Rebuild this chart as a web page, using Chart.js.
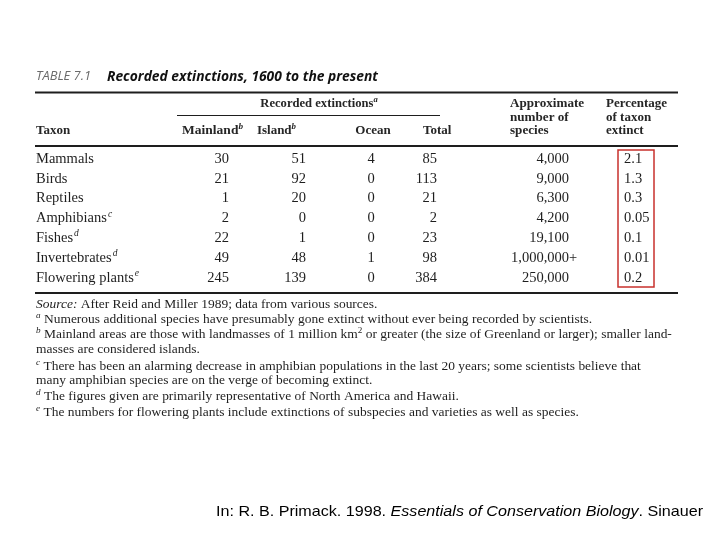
<!DOCTYPE html>
<html>
<head>
<meta charset="utf-8">
<script src="https://cdn.jsdelivr.net/npm/chart.js@4/dist/chart.umd.min.js"></script>
<style>
html,body{margin:0;padding:0;background:#fff;}
#wrap{width:720px;height:540px;}
</style>
</head>
<body>
<div id="wrap"><canvas id="c" width="720" height="540"></canvas></div>
<script>
// ---- data ----
const taxa = ['Mammals','Birds','Reptiles','Amphibians','Fishes','Invertebrates','Flowering plants'];
const taxonNotes = ['','','','c','d','d','e'];
const mainland = [30,21,1,2,22,49,245];
const island = [51,92,20,0,1,48,139];
const ocean = [4,0,0,0,0,1,0];
const total = [85,113,21,2,23,98,384];
const speciesCount = [4000,9000,6300,4200,19100,1000000,250000];
const speciesPlus = [false,false,false,false,false,true,false];
const pctExtinct = [2.1,1.3,0.3,0.05,0.1,0.01,0.2];

const titleLabel = 'TABLE 7.1';
const titleText = 'Recorded extinctions, 1600 to the present';
const creditPre = 'In: R. B. Primack. 1998. ';
const creditBook = 'Essentials of Conservation Biology';
const creditPost = '. Sinauer';

// ---- layout / style ----
const SERIF = '"Liberation Serif", serif';
const SANS = '"Open Sans", sans-serif';
const ARIAL = '"Liberation Sans", Arial, sans-serif';
const INK = '#1e1e1e';

const columns = [
  {data: mainland, x: 229, align: 'right', fmt: v => String(v)},
  {data: island, x: 306, align: 'right', fmt: v => String(v)},
  {data: ocean, x: 371, align: 'center', fmt: v => String(v)},
  {data: total, x: 437, align: 'right', fmt: v => String(v)},
  {data: speciesCount, x: 569, align: 'right', fmt: v => v.toLocaleString('en-US'), plus: speciesPlus},
  {data: pctExtinct, x: 624, align: 'left', fmt: v => String(v)}
];

function fontStr(style, size, fam){ return `${style||'normal'} ${size}px ${fam}`; }

function runsWidth(ctx, runs){
  let w = 0;
  runs.forEach(r => {
    const size = r.sup ? r.size*0.68 : r.size;
    ctx.font = fontStr(r.style, size, r.fam);
    w += ctx.measureText(r.t).width;
  });
  return w;
}
// draw runs with horizontal scale factor s (default 1); align 'left', 'center' or 'right'
function drawRuns(ctx, runs, x, y, s, color, align){
  s = s || 1;
  const nat = runsWidth(ctx, runs);
  const startX = align === 'center' ? x - nat*s/2 : (align === 'right' ? x - nat*s : x);
  ctx.save();
  ctx.translate(startX, y);
  ctx.scale(s, 1);
  ctx.textBaseline = 'middle';
  ctx.textAlign = 'left';
  ctx.fillStyle = color || INK;
  let cx = 0;
  runs.forEach(r => {
    const size = r.sup ? r.size*0.68 : r.size;
    ctx.font = fontStr(r.style, size, r.fam);
    ctx.fillText(r.t, cx, r.sup ? -r.size*0.33 : 0);
    cx += ctx.measureText(r.t).width;
  });
  ctx.restore();
}
function fitScale(ctx, runs, target){ return target / runsWidth(ctx, runs); }
function line(ctx, x1, x2, y, w){
  ctx.save();
  ctx.strokeStyle = INK;
  ctx.lineWidth = w;
  ctx.beginPath(); ctx.moveTo(x1, y); ctx.lineTo(x2, y); ctx.stroke();
  ctx.restore();
}

const S = (t, style) => ({t, style, size: 13, fam: SERIF});
const SUP = (t) => ({t, style: 'italic', size: 13, fam: SERIF, sup: true});

const footnotes = [
  {y: 305, runs: [S('Source:','italic'), S(' After Reid and Miller 1989; data from various sources.')]},
  {y: 320, runs: [SUP('a'), S(' Numerous additional species have presumably gone extinct without ever being recorded by scientists.')]},
  {y: 335, runs: [SUP('b'), S(' Mainland areas are those with landmasses of 1 million km'), {t:'2', style:'normal', size:13, fam:SERIF, sup:true}, S(' or greater (the size of Greenland or larger); smaller land-')]},
  {y: 350, runs: [S('masses are considered islands.')]},
  {y: 367, runs: [SUP('c'), S(' There has been an alarming decrease in amphibian populations in the last 20 years; some scientists believe that')]},
  {y: 381, runs: [S('many amphibian species are on the verge of becoming extinct.')]},
  {y: 397, runs: [SUP('d'), S(' The figures given are primarily representative of North America and Hawaii.')]},
  {y: 413, runs: [SUP('e'), S(' The numbers for flowering plants include extinctions of subspecies and varieties as well as species.')]}
];

const tablePlugin = {
  id: 'tablePlugin',
  beforeDraw(chart){
    const ctx = chart.ctx;
    ctx.save(); ctx.fillStyle = '#fff'; ctx.fillRect(0,0,chart.width,chart.height); ctx.restore();
  },
  afterDraw(chart){
    const ctx = chart.ctx;
    // title
    const tl = [{t: titleLabel, style: 'italic', size: 12, fam: SANS}];
    drawRuns(ctx, tl, 36, 77, fitScale(ctx, tl, 55), '#6a6a6a');
    const tt = [{t: titleText, style: 'italic bold', size: 14, fam: SANS}];
    drawRuns(ctx, tt, 107, 77, fitScale(ctx, tt, 271), '#111');
    // rules
    line(ctx, 35, 678, 92.5, 2.2);
    line(ctx, 177, 440, 115.5, 1);
    line(ctx, 35, 678, 146, 2.2);
    line(ctx, 35, 678, 293, 2.2);
    // headers
    const HC = '#262626';
    const B = (t) => ({t, style: 'bold', size: 13, fam: SERIF});
    const BS = (t) => ({t, style: 'bold italic', size: 13, fam: SERIF, sup: true});
    drawRuns(ctx, [B('Recorded extinctions'), BS('a')], 319, 104, 0.97, HC, 'center');
    drawRuns(ctx, [B('Taxon')], 36, 131, 1, HC);
    drawRuns(ctx, [B('Mainland'), BS('b')], 243, 131, 1.04, HC, 'right');
    drawRuns(ctx, [B('Island'), BS('b')], 296, 131, 1, HC, 'right');
    drawRuns(ctx, [B('Ocean')], 373, 131, 1, HC, 'center');
    drawRuns(ctx, [B('Total')], 423, 131, 1, HC);
    drawRuns(ctx, [B('Approximate')], 510, 104, 1.01, HC);
    drawRuns(ctx, [B('number of')], 510, 118, 1.01, HC);
    drawRuns(ctx, [B('species')], 510, 131, 1.01, HC);
    drawRuns(ctx, [B('Percentage')], 606, 104, 1, HC);
    drawRuns(ctx, [B('of taxon')], 606, 118, 1, HC);
    drawRuns(ctx, [B('extinct')], 606, 131, 1, HC);

    // rows (positions from the chart's category y scale)
    const meta0 = chart.getDatasetMeta(0);
    ctx.save();
    ctx.textBaseline = 'middle';
    ctx.fillStyle = INK;
    taxa.forEach((name, i) => {
      const y = meta0.data[i].y;
      ctx.font = fontStr('normal', 14.5, SERIF);
      ctx.textAlign = 'left';
      const x0 = chart.scales.x.getPixelForValue(36);
      ctx.fillText(name, x0, y);
      if (taxonNotes[i]) {
        const w = ctx.measureText(name).width;
        ctx.font = fontStr('italic', 9.5, SERIF);
        ctx.fillText(taxonNotes[i], x0 + w + 1, y - 4.5);
      }
    });
    columns.forEach((col, k) => {
      const meta = chart.getDatasetMeta(k);
      col.data.forEach((v, i) => {
        const el = meta.data[i];
        ctx.font = fontStr('normal', 14.5, SERIF);
        ctx.textAlign = col.align;
        ctx.fillText(col.fmt(v), el.x, el.y);
        if (col.plus && col.plus[i]) {
          ctx.textAlign = 'left';
          ctx.fillText('+', el.x, el.y);
        }
      });
    });
    ctx.restore();

    // red box around percentage column
    const yTop = meta0.data[0].y - 9;
    const yBot = meta0.data[taxa.length-1].y + 9;
    ctx.save();
    ctx.strokeStyle = '#c8302c';
    ctx.lineWidth = 1.5;
    ctx.strokeRect(618, yTop, 36, yBot - yTop);
    ctx.restore();

    // footnotes: one common horizontal scale
    const sFoot = fitScale(ctx, footnotes[1].runs, 556);
    footnotes.forEach(f => drawRuns(ctx, f.runs, 36, f.y, sFoot));

    // credit
    const cr = [
      {t: creditPre, style: 'normal', size: 15, fam: ARIAL},
      {t: creditBook, style: 'italic', size: 15, fam: ARIAL},
      {t: creditPost, style: 'normal', size: 15, fam: ARIAL}
    ];
    drawRuns(ctx, cr, 216, 512, fitScale(ctx, cr, 487), '#000');
  }
};

const datasets = columns.map((col, k) => ({
  label: 'col' + k,
  data: col.data.map((v, i) => ({x: col.x, y: taxa[i]})),
  pointRadius: 0,
  pointHoverRadius: 0,
  showLine: false
}));

new Chart(document.getElementById('c'), {
  type: 'scatter',
  data: {labels: taxa, datasets},
  options: {
    responsive: false,
    animation: false,
    events: [],
    layout: {padding: {top: 159, bottom: 262, left: 0, right: 0}},
    plugins: {legend: {display: false}, tooltip: {enabled: false}},
    scales: {
      x: {type: 'linear', min: 0, max: 720, display: false},
      y: {type: 'category', labels: taxa, offset: false, display: false}
    }
  },
  plugins: [tablePlugin]
});
</script>
</body>
</html>
